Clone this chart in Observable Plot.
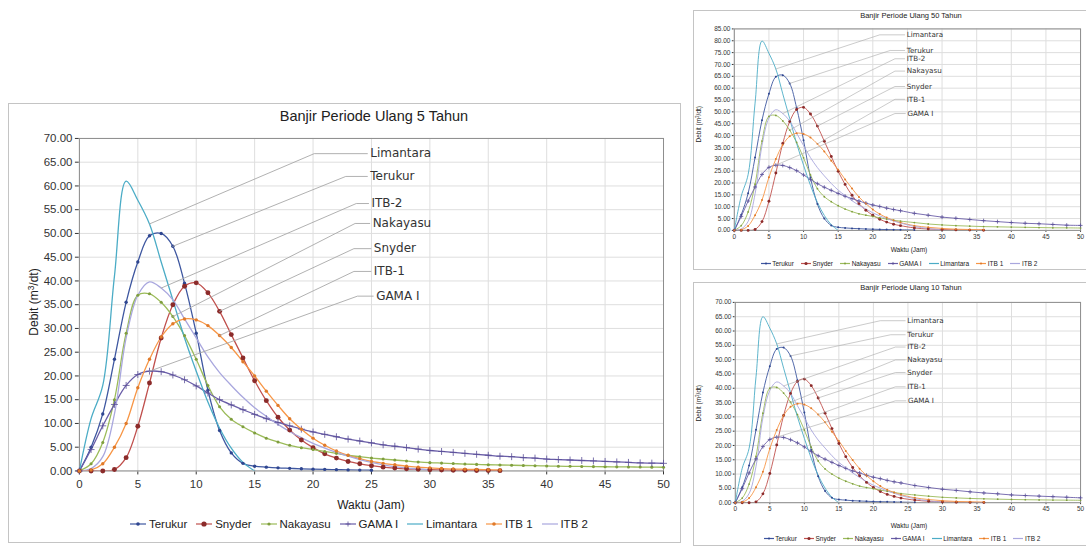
<!DOCTYPE html>
<html><head><meta charset="utf-8">
<script src="https://cdn.jsdelivr.net/npm/d3@7"></script>
<script src="https://cdn.jsdelivr.net/npm/@observablehq/plot@0.6"></script>
<style>
html,body{margin:0;padding:0;background:#fff;}
#page{position:relative;width:1086px;height:547px;overflow:hidden;background:#fff;font-family:"Liberation Sans",Arial,sans-serif;color:#222;}
.panel{position:absolute;border:1px solid #c4c4c4;background:#fff;box-sizing:border-box;overflow:visible;}
.abs{position:absolute;white-space:nowrap;}
.legend{position:absolute;display:flex;align-items:center;white-space:nowrap;}
.legend .it{display:flex;align-items:center;}
</style></head>
<body><div id="page"></div>
<script>
// ---------- data ----------
const namaSeri = ["Terukur","Snyder","Nakayasu","GAMA I","Limantara","ITB 1","ITB 2"];
const xTicks = [0,5,10,15,20,25,30,35,40,45,50];
const yTicks5 = [0,5,10,15,20,25,30,35,40,45,50,55,60,65,70];
const yTicks10 = [0,5,10,15,20,25,30,35,40,45,50,55,60,65,70];
const yTicks50 = [0,5,10,15,20,25,30,35,40,45,50,55,60,65,70,75,80,85];

// time (jam) for the 5-year chart: hourly
const jam = [0,1,2,3,4,5,6,7,8,9,10,11,12,13,14,15,16,17,18,19,20,21,22,23,24,25,26,27,28,29,30,31,32,33,34,35,36,37,38,39,40,41,42,43,44,45,46,47,48,49,50];
// time for the small charts: hourly to 24, then every 2 h
const jamKecil = [0,1,2,3,4,5,6,7,8,9,10,11,12,13,14,15,16,17,18,19,20,21,22,23,24,26,28,30,32,34,36,38,40,42,44,46,48,50];

// Banjir Periode Ulang 5 Tahun
const terukur5   = [0,5,12,23.5,35.5,44,49.5,50,47.3,39.5,29,17,8.5,3.8,1.6,1.0,0.8,0.65,0.55,0.45,0.38,0.32,0.27,0.22,0.18,0.15];
const snyder5    = [0,0,0,0.3,2.8,9.4,18.5,28,35,38.9,39.6,37.5,33.6,28.7,23.8,19,14.8,11.3,8.6,6.5,4.9,3.6,2.7,2.0,1.5,1.1,0.8,0.6,0.45,0.35,0.25,0.2,0.15,0.12,0.1,0.08,0.06];
const nakayasu5  = [0,1.5,6,15,29,37,37.3,35.5,32.5,28.5,23.5,18,13.5,10.9,9.3,8.0,6.9,6.1,5.4,4.9,4.5,4.1,3.7,3.3,3.0,2.7,2.5,2.3,2.1,1.9,1.75,1.65,1.55,1.45,1.38,1.3,1.25,1.2,1.15,1.1,1.05,1.0,0.97,0.94,0.91,0.88,0.86,0.84,0.82,0.8,0.78];
const gama5      = [0,4.5,9.5,14,18,20.3,21.0,20.9,20.2,19.2,17.9,16.4,15.0,13.9,12.9,11.9,11.0,10.2,9.5,8.8,8.2,7.7,7.2,6.7,6.3,5.9,5.5,5.2,4.9,4.6,4.3,4.1,3.9,3.7,3.5,3.3,3.1,3.0,2.8,2.7,2.5,2.4,2.3,2.2,2.1,2.0,1.9,1.8,1.7,1.65,1.6];
const limantara5 = [0,11,18,41,61,57,52,44,36,28,21,14.5,9,4.8,1.8,0];
const itb1_5     = [0,0.2,1.5,5,10,17.5,23.5,28.2,31,32,31.8,30.6,28.5,26,23,20,16.8,13.8,11,8.8,6.9,5.4,4.2,3.3,2.6,2.0,1.6,1.3,1.0,0.8,0.65,0.5,0.4,0.35,0.3,0.25,0.2];
const itb2_5     = [0,0.5,3,12,28,37,39.8,38.5,36,32,28,24,20.7,18,15.5,13.3,11.5,9.8,8.3,7,5.8,4.8,3.9,3.1,2.4,1.8,1.3,0.9,0.6,0.4,0.2];

// Banjir Periode Ulang 50 Tahun (top right)
const terukur50   = [0,6.6,15.7,30.8,46.5,57.6,64.8,65.5,62,51.7,38,22.3,11.1,5,2.1,1.3,1.05,0.85,0.72,0.59,0.5,0.42,0.35,0.29,0.24,0.17];
const snyder50    = [0,0,0,0.4,3.7,12.3,24.2,36.7,45.9,51.0,51.9,49.1,44.0,37.6,31.2,24.9,19.4,14.8,11.3,8.5,6.4,4.7,3.5,2.6,2.0,1.05,0.59,0.33,0.2,0.13,0.08];
const nakayasu50  = [0,2.0,7.8,19.5,37.7,48.1,48.5,46.2,42.3,37.1,30.6,23.4,17.6,14.2,12.1,10.4,9.0,7.9,7.0,6.4,5.9,5.3,4.8,4.3,3.9,3.3,2.7,2.3,2.0,1.8,1.6,1.5,1.4,1.3,1.2,1.1,1.07,1.0];
const gama50      = [0,5.9,12.4,18.3,23.6,26.6,27.5,27.4,26.5,25.2,23.4,21.5,19.7,18.2,16.9,15.6,14.4,13.4,12.4,11.5,10.7,10.1,9.4,8.8,8.3,7.2,6.4,5.6,5.1,4.6,4.1,3.7,3.3,3.0,2.8,2.5,2.2,2.1];
const limantara50 = [0,14.4,23.6,53.7,79.9,74.7,68.1,57.6,47.2,36.7,27.5,19,11.8,6.3,2.4,0];
const itb1_50     = [0,0.3,1.9,6.4,12.8,22.4,30.1,36.1,39.7,41.0,40.7,39.2,36.5,33.3,29.4,25.6,21.5,17.7,14.1,11.3,8.8,6.9,5.4,4.2,3.3,2.0,1.3,0.83,0.51,0.38,0.26];
const itb2_50     = [0,0.6,3.8,15.4,35.8,47.4,50.9,49.3,46.1,41.0,35.8,30.7,26.5,23.0,19.8,17.0,14.7,12.5,10.6,9.0,7.4,6.1,5.0,4.0,3.1,1.7,0.77,0.26];

// Banjir Periode Ulang 10 Tahun (bottom right)
const terukur10   = [0,5.4,13,25.5,38.5,47.7,53.7,54.2,51.3,42.8,31.5,18.4,9.2,4.1,1.7,1.1,0.9,0.7,0.6,0.5,0.4,0.35,0.3,0.24,0.2,0.13];
const snyder10    = [0,0,0,0.3,3.1,10.2,20.2,30.5,38.2,42.4,43.2,40.9,36.6,31.3,25.9,20.7,16.1,12.3,9.4,7.1,5.3,3.9,2.9,2.2,1.6,0.9,0.5,0.27,0.16,0.11,0.07];
const nakayasu10  = [0,1.6,6.5,16.2,31.3,40,40.3,38.3,35.1,30.8,25.4,19.4,14.6,11.8,10,8.6,7.5,6.6,5.8,5.3,4.9,4.4,4.0,3.6,3.2,2.7,2.27,1.89,1.67,1.49,1.35,1.24,1.13,1.05,0.98,0.93,0.89,0.84];
const gama10      = [0,4.9,10.4,15.3,19.6,22.1,22.9,22.8,22.0,20.9,19.5,17.9,16.4,15.2,14.1,13.0,12.0,11.1,10.4,9.6,8.9,8.4,7.8,7.3,6.9,6.0,5.3,4.7,4.3,3.8,3.4,3.1,2.7,2.5,2.3,2.1,1.9,1.7];
const limantara10 = [0,12,19,44,65,61,55.5,47,38.5,30,22.5,15.5,9.6,5.1,1.9,0];
const itb1_10     = [0,0.2,1.6,5.4,10.8,18.9,25.4,30.5,33.5,34.6,34.3,33.0,30.8,28.1,24.8,21.6,18.1,14.9,11.9,9.5,7.5,5.8,4.5,3.6,2.8,1.7,1.1,0.7,0.43,0.32,0.22];
const itb2_10     = [0,0.5,3.2,12.7,29.7,39.2,42.2,40.8,38.2,33.9,29.7,25.4,21.9,19.1,16.4,14.1,12.2,10.4,8.8,7.4,6.1,5.1,4.1,3.3,2.5,1.4,0.64,0.21];

// annotation labels (text, series, attach hour, elbow hour, label hour, label level)
const label5  = [["Limantara","Limantara",6,20.1,24.9,66.8],["Terukur","Terukur",8,22.8,24.9,62],["ITB-2","ITB 2",7,23.7,25.0,56.3],["Nakayasu","Nakayasu",8,23.6,25.1,52.1],["Snyder","Snyder",12,23.5,25.2,46.8],["ITB-1","ITB 1",12,23.5,25.2,42],["GAMA I","GAMA I",6,23.8,25.4,36.8]];
const label50 = [["Limantara","Limantara",6,21.0,24.9,82.5],["Terukur","Terukur",8,22.5,24.9,75.9],["ITB-2","ITB 2",7,23.2,24.9,72.4],["Nakayasu","Nakayasu",8,23.2,24.9,67.2],["Snyder","Snyder",12,23.2,24.9,60.7],["ITB-1","ITB 1",12,23.2,24.9,55.3],["GAMA I","GAMA I",6,23.2,25.0,49.3]];
const label10 = [["Limantara","Limantara",6,21.0,24.9,63.6],["Terukur","Terukur",8,22.5,24.9,58.7],["ITB-2","ITB 2",7,23.2,24.9,54.4],["Nakayasu","Nakayasu",8,23.2,24.9,49.9],["Snyder","Snyder",12,23.2,24.9,45.5],["ITB-1","ITB 1",12,23.2,24.9,40.5],["GAMA I","GAMA I",6,23.2,25.0,35.6]];

// ---------- styles ----------
const gaya = {
  "Terukur":  {c:"#3e57a0", m:"dot",  mc:"#2f4690", k:1},
  "Snyder":   {c:"#c0504d", m:"dot",  mc:"#8b2b2a", k:1.45},
  "Nakayasu": {c:"#9bbb59", m:"dot",  mc:"#7f9e3e", k:0.9},
  "GAMA I":   {c:"#6a5ea8", m:"plus", mc:"#5a4f98", k:1},
  "Limantara":{c:"#4bacc6", m:"none", mc:"#4bacc6", k:1},
  "ITB 1":    {c:"#f79646", m:"dot",  mc:"#e07a2a", k:1},
  "ITB 2":    {c:"#a9a7de", m:"none", mc:"#a9a7de", k:1}
};

function rows(vals, times, seri){ return vals.map((q,i)=>({seri, t:times[i], q})); }
function chartData(set, times){ return namaSeri.map((n,i)=>rows(set[i], times, n)); }

const data5  = chartData([terukur5,snyder5,nakayasu5,gama5,limantara5,itb1_5,itb2_5], jam);
const data50 = chartData([terukur50,snyder50,nakayasu50,gama50,limantara50,itb1_50,itb2_50], jamKecil);
const data10 = chartData([terukur10,snyder10,nakayasu10,gama10,limantara10,itb1_10,itb2_10], jamKecil);

function leaderRows(labels, data, gapT){
  const out=[];
  labels.forEach(([lab,seri,tA,tE,tL,qL])=>{
    const s = data[namaSeri.indexOf(seri)];
    const p = s.find(d=>d.t===tA);
    out.push({id:lab,t:tA,q:p.q},{id:lab,t:tE,q:qL},{id:lab,t:tL-gapT,q:qL});
  });
  return out;
}

function makePlot(o){
  const marks = [
    Plot.ruleX(xTicks,{stroke:"#dedede",strokeWidth:1}),
    Plot.ruleY(o.yTicks,{stroke:"#dedede",strokeWidth:1}),
    Plot.frame({stroke:"#8d8d8d",strokeWidth:1})
  ];
  o.data.forEach(s=>{
    const g = gaya[s[0].seri];
    marks.push(Plot.line(s,{x:"t",y:"q",stroke:g.c,strokeWidth:o.lw,curve:"catmull-rom",clip:true}));
  });
  o.data.forEach(s=>{
    const g = gaya[s[0].seri];
    if(g.m==="dot") marks.push(Plot.dot(s,{x:"t",y:"q",r:o.mr*g.k,fill:g.mc,stroke:"none"}));
    if(g.m==="plus") marks.push(Plot.dot(s,{x:"t",y:"q",r:o.mr*1.4,symbol:"plus",stroke:g.mc,strokeWidth:0.8,fill:"none"}));
  });
  marks.push(Plot.line(leaderRows(o.labels,o.data,o.gapT),{x:"t",y:"q",z:"id",stroke:"#a8a8a8",strokeWidth:o.leadW}));
  marks.push(Plot.text(o.labels.map(l=>({text:l[0],t:l[4],q:l[5]})),{x:"t",y:"q",text:"text",textAnchor:"start",fontSize:o.labFs,fill:"#333",fontFamily:"DejaVu Sans, sans-serif"}));
  return Plot.plot({
    width:o.width,height:o.height,
    marginLeft:o.ml,marginRight:o.mr2,marginTop:o.mt,marginBottom:o.mb,
    style:{fontFamily:"Liberation Sans, Arial, sans-serif",fontSize:o.fs+"px",color:"#333",background:"transparent",overflow:"visible"},
    x:{domain:[0,50],ticks:xTicks,tickFormat:d=>String(d),label:null,tickSize:o.ts,tickPadding:o.tpx},
    y:{domain:[0,o.yMax],ticks:o.yTicks,tickFormat:d3.format(".2f"),label:null,tickSize:o.ts,tickPadding:o.tp},
    marks
  });
}

function legendEl(fs, sw, gap, mr){
  const d = document.createElement("div");
  d.className="legend";
  d.style.fontSize=fs+"px";
  namaSeri.forEach((n,i)=>{
    const g = gaya[n];
    const it = document.createElement("div"); it.className="it";
    if(i>0) it.style.marginLeft=gap+"px";
    const h = Math.ceil(fs);
    let mk="";
    const cx=sw/2, cy=h/2;
    if(g.m==="dot") mk=`<circle cx="${cx}" cy="${cy}" r="${mr*g.k}" fill="${g.mc}"/>`;
    if(g.m==="plus") mk=`<path d="M${cx-mr*1.4},${cy}H${cx+mr*1.4}M${cx},${cy-mr*1.4}V${cy+mr*1.4}" stroke="${g.mc}" stroke-width="0.8"/>`;
    it.innerHTML=`<svg width="${sw}" height="${h}" style="margin-right:${fs*0.25}px"><line x1="0" x2="${sw}" y1="${cy}" y2="${cy}" stroke="${g.c}" stroke-width="1.2"/>${mk}</svg><span>${n}</span>`;
    d.appendChild(it);
  });
  return d;
}

const page = document.getElementById("page");

function panel(p){
  const el = document.createElement("div");
  el.className="panel";
  Object.assign(el.style,{left:p.left+"px",top:p.top+"px",width:p.w+"px",height:p.h+"px"});
  page.appendChild(el);
  const svg = makePlot(p.plot);
  svg.style.position="absolute"; svg.style.left="0px"; svg.style.top="0px";
  el.appendChild(svg);
  const t = document.createElement("div"); t.className="abs"; t.textContent=p.title;
  Object.assign(t.style,{left:(p.titleX-300)+"px",width:"600px",textAlign:"center",top:p.titleY+"px",fontSize:p.titleFs+"px",lineHeight:"1"});
  el.appendChild(t);
  const xl = document.createElement("div"); xl.className="abs"; xl.textContent="Waktu (Jam)";
  Object.assign(xl.style,{left:(p.xlX-100)+"px",width:"200px",textAlign:"center",top:p.xlY+"px",fontSize:p.axFs+"px",lineHeight:"1"});
  el.appendChild(xl);
  const yl = document.createElement("div"); yl.className="abs"; yl.innerHTML="Debit (m<sup style='font-size:0.7em;vertical-align:0.45em;line-height:0'>3</sup>/dt)";
  Object.assign(yl.style,{left:(p.ylX-100)+"px",top:(p.ylY-p.axFs/2)+"px",width:"200px",textAlign:"center",fontSize:p.axFs+"px",lineHeight:"1",transform:"rotate(-90deg)",transformOrigin:"50% 50%"});
  el.appendChild(yl);
  const lg = legendEl(p.lgFs,p.lgSw,p.lgGap,p.lgMr);
  el.appendChild(lg);
  const w = lg.getBoundingClientRect().width, h = lg.getBoundingClientRect().height;
  lg.style.left=(p.lgX - w/2)+"px"; lg.style.top=(p.lgY - h/2)+"px";
}

// main chart: 5 years
panel({left:8,top:103,w:673,h:440,title:"Banjir Periode Ulang 5 Tahun",titleX:365,titleY:5,titleFs:14.5,
  xlX:362,xlY:395,axFs:12,ylX:25,ylY:198,lgX:350,lgY:420,lgFs:11.5,lgSw:16,lgGap:9,lgMr:1.8,
  plot:{width:672,height:410,ml:70,mr2:17,mt:34,mb:43,yMax:70,yTicks:yTicks5,data:data5,labels:label5,fs:11.5,ts:4,tp:3,tpx:5,lw:1.3,mr:1.7,labFs:12,leadW:0.9,gapT:0.25}});

// top right: 50 years
panel({left:693,top:10,w:400,h:260,title:"Banjir Periode Ulang 50 Tahun",titleX:217,titleY:1,titleFs:7.5,
  xlX:215,xlY:236,axFs:6.5,ylX:5,ylY:113,lgX:205,lgY:252,lgFs:6.5,lgSw:10,lgGap:7,lgMr:1.1,
  plot:{width:400,height:246,ml:40,mr2:12,mt:17.5,mb:26,yMax:85,yTicks:yTicks50,data:data50,labels:label50,fs:6.5,ts:2,tp:2,tpx:2,lw:0.9,mr:1.0,labFs:7.2,leadW:0.6,gapT:0.3}});

// bottom right: 10 years
panel({left:693,top:282,w:400,h:264,title:"Banjir Periode Ulang 10 Tahun",titleX:217,titleY:1,titleFs:7.5,
  xlX:215,xlY:240,axFs:6.5,ylX:5,ylY:120,lgX:208,lgY:255,lgFs:6.5,lgSw:10,lgGap:7,lgMr:1.1,
  plot:{width:400,height:246,ml:41,mr2:12,mt:19,mb:25.7,yMax:70,yTicks:yTicks10,data:data10,labels:label10,fs:6.5,ts:2,tp:2,tpx:2,lw:0.9,mr:1.0,labFs:7.2,leadW:0.6,gapT:0.3}});
</script>
</body></html>
